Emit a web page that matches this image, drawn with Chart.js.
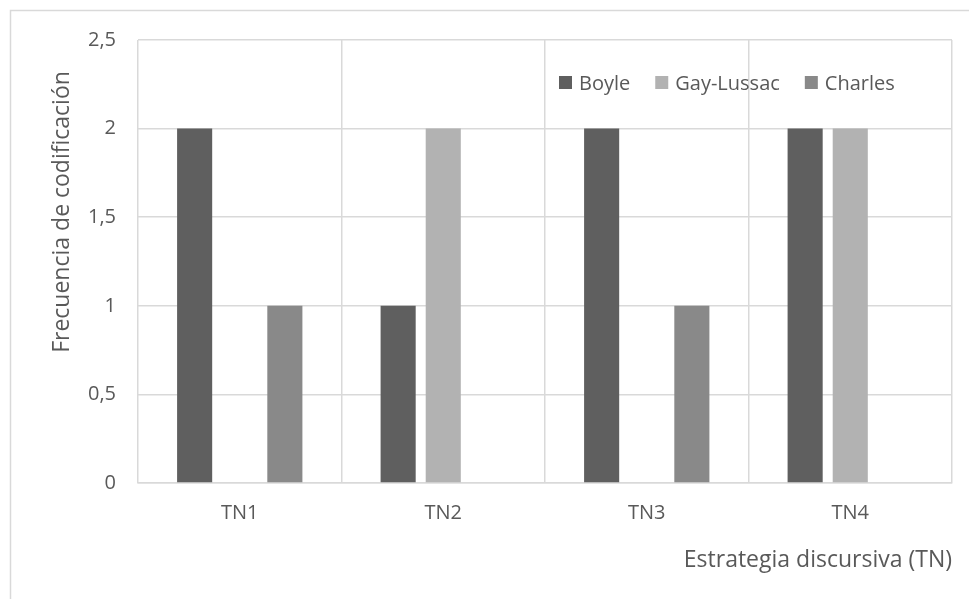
<!DOCTYPE html>
<html>
<head>
<meta charset="utf-8">
<script src="https://cdn.jsdelivr.net/npm/chart.js@4.4.0/dist/chart.umd.min.js"></script>
<style>
  html, body { margin: 0; padding: 0; background: #ffffff; }
  #wrap { width: 969px; height: 599px; }
</style>
</head>
<body>
<div id="wrap"><canvas id="chart" width="969" height="599"></canvas></div>
<script>
// data
const categories = ['TN1', 'TN2', 'TN3', 'TN4'];
const boyle = [2, 1, 2, 2];
const gayLussac = [0, 2, 0, 2];
const charles = [1, 0, 1, 0];
const seriesNames = ['Boyle', 'Gay-Lussac', 'Charles'];
const seriesColors = ['#5f5f5f', '#b2b2b2', '#898989'];
const yTitle = 'Frecuencia de codificación';
const xTitle = 'Estrategia discursiva (TN)';

const FONT = '"Open Sans", sans-serif';
const TEXT = '#595959';
const GRID = '#d9d9d9';

// outer frame of the chart object
const framePlugin = {
  id: 'frame',
  beforeDraw(chart) {
    const ctx = chart.ctx;
    ctx.save();
    ctx.fillStyle = '#ffffff';
    ctx.fillRect(0, 0, chart.width, chart.height);
    ctx.strokeStyle = GRID;
    ctx.lineWidth = 1.5;
    ctx.strokeRect(10.5, 10.5, chart.width + 20, chart.height + 20);
    ctx.restore();
  },
};

// y axis title sits a bit above the plot centre, as in the original
const yTitlePlugin = {
  id: 'yTitle',
  afterDraw(chart) {
    const ctx = chart.ctx;
    const area = chart.chartArea;
    ctx.save();
    ctx.font = '23px ' + FONT;
    ctx.fillStyle = TEXT;
    ctx.textAlign = 'center';
    ctx.textBaseline = 'middle';
    ctx.translate(62, area.top + 172);
    ctx.rotate(-Math.PI / 2);
    ctx.fillText(yTitle, 0, 0);
    ctx.restore();
  },
};

// legend sits inside the plot, top right
const insideLegend = {
  id: 'insideLegend',
  afterDraw(chart) {
    const ctx = chart.ctx;
    const area = chart.chartArea;
    ctx.save();
    ctx.font = '20px ' + FONT;
    ctx.textBaseline = 'middle';
    let x = area.left + 421;
    const y = area.top + 43;
    chart.data.datasets.forEach((ds) => {
      ctx.fillStyle = ds.backgroundColor;
      ctx.fillRect(x, y - 7, 13, 13);
      ctx.fillStyle = TEXT;
      ctx.fillText(ds.label, x + 20, y + 1);
      x += 20 + ctx.measureText(ds.label).width + 25;
    });
    ctx.restore();
  },
};

const datasets = [boyle, gayLussac, charles].map((values, i) => ({
  label: seriesNames[i],
  data: values,
  backgroundColor: seriesColors[i],
  borderWidth: 0,
  categoryPercentage: 0.665,
  barPercentage: 0.778,
}));

new Chart(document.getElementById('chart'), {
  type: 'bar',
  data: { labels: categories, datasets },
  options: {
    responsive: false,
    animation: false,
    layout: { padding: { left: 40, top: 40, right: 17, bottom: 20 } },
    plugins: {
      legend: { display: false },
      tooltip: { enabled: false },
    },
    scales: {
      x: {
        grid: { color: GRID, lineWidth: 1.5, drawTicks: false, offset: true },
        border: { color: GRID, width: 1.5 },
        ticks: { color: TEXT, font: { family: FONT, size: 20 }, padding: 18 },
        title: {
          display: true,
          text: xTitle,
          align: 'end',
          color: TEXT,
          font: { family: FONT, size: 23 },
          padding: { top: 0, bottom: 5 },
        },
        afterFit(scale) { scale.height = 96; },
      },
      y: {
        min: 0,
        max: 2.5,
        grid: { color: GRID, lineWidth: 1.5, drawTicks: false },
        border: { display: false },
        ticks: {
          stepSize: 0.5,
          color: TEXT,
          padding: 22,
          font: { family: FONT, size: 20 },
          callback: (v) => String(v).replace('.', ','),
        },
        afterFit(scale) { scale.width = 98; },
      },
    },
  },
  plugins: [framePlugin, yTitlePlugin, insideLegend],
});
</script>
</body>
</html>
